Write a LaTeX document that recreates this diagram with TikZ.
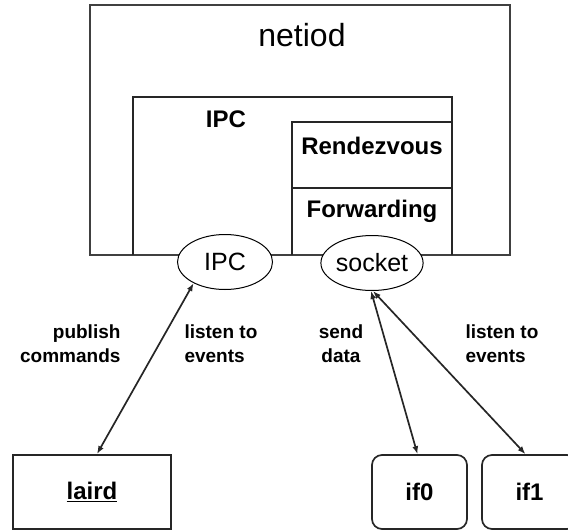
\documentclass[tikz,border=0pt]{standalone}
\usepackage{fontspec}
\setmainfont{Liberation Sans}
\usetikzlibrary{arrows.meta,shapes.geometric}
\begin{document}
\begin{tikzpicture}[x=1pt,y=-1pt,
  outerframe/.style={draw=black!75,line width=2pt},
  innerframe/.style={draw=black!85,line width=1.7pt},
  ell/.style={ellipse,draw=black,line width=1pt,fill=white,minimum width=95pt,minimum height=55pt,inner sep=0pt,font=\fontsize{25}{28}\selectfont},
  title/.style={font=\fontsize{32}{36}\selectfont},
  boxlbl/.style={font=\bfseries\fontsize{24}{28}\selectfont},
  lbl/.style={font=\bfseries\fontsize{19}{24}\selectfont},
  proc/.style={draw=black!85,line width=2pt,minimum width=158pt,minimum height=74pt,inner sep=0pt,font=\bfseries\fontsize{24}{28}\selectfont},
  iface/.style={draw=black!85,line width=1.7pt,rounded corners=10pt,minimum width=95pt,minimum height=74pt,inner sep=0pt,font=\bfseries\fontsize{24}{28}\selectfont},
  link/.style={draw=black!85,line width=1.7pt,{Latex[length=8pt,width=6pt]}-{Latex[length=8pt,width=6pt]}}]
\useasboundingbox (0,0) rectangle (568,531);
\clip (0,0) rectangle (568,531);
% netiod outer box
\coordinate (ntl) at (90,5);
\coordinate (ntr) at (510,5);
\coordinate (nbr) at (510,255);
\coordinate (nbl) at (90,255);
\draw[outerframe] (nbl) -- (ntl) -- (ntr) -- (nbr) -- cycle;
% IPC box
\coordinate (itl) at (133,97);
\coordinate (itr) at (452,97);
\coordinate (ibl) at (133,255);
\coordinate (ibr) at (452,255);
\draw[innerframe] (ibl) -- (itl) -- (itr) -- (ibr);
% Rendezvous / Forwarding
\coordinate (rtl) at (292,122);
\coordinate (rtr) at (452,122);
\coordinate (rbl) at (292,255);
\coordinate (rml) at (292,188);
\coordinate (rmr) at (452,188);
\draw[innerframe] (rbl) -- (rtl) -- (rtr);
\draw[innerframe] (rml) -- (rmr);
% texts
\node[title] (tnetiod) at (302,35) {netiod};
\node[boxlbl] (tipc) at (226,119) {IPC};
\node[boxlbl] (trdv) at (372,146) {Rendezvous};
\node[boxlbl] (tfwd) at (372,211) {Forwarding};
% ellipses
\node[ell] (ipce) at (225,262) {IPC};
\node[ell] (sock) at (372,263) {socket};
% bottom boxes
\node[proc] (laird) at (92,492) {\underline{laird}};
\node[iface] (if0) at (419.5,492) {if0};
\node[iface] (if1) at (529.5,492) {if1};
% connectors
\draw[link] ([xshift=5pt]laird.north) -- (ipce.214);
\draw[link] ([xshift=-2pt]if0.north) -- (sock.268);
\draw[link] ([xshift=-4pt]if1.north) -- (sock.272);
% connector labels
\node[lbl,align=right,anchor=east] (lpub) at (124,344) {publish\\commands};
\node[lbl,align=left,anchor=west] (llis1) at (181,344) {listen to\\events};
\node[lbl,align=center] (lsend) at (341,344) {send\\data};
\node[lbl,align=left,anchor=west] (llis2) at (462,344) {listen to\\events};
\end{tikzpicture}
\end{document}
